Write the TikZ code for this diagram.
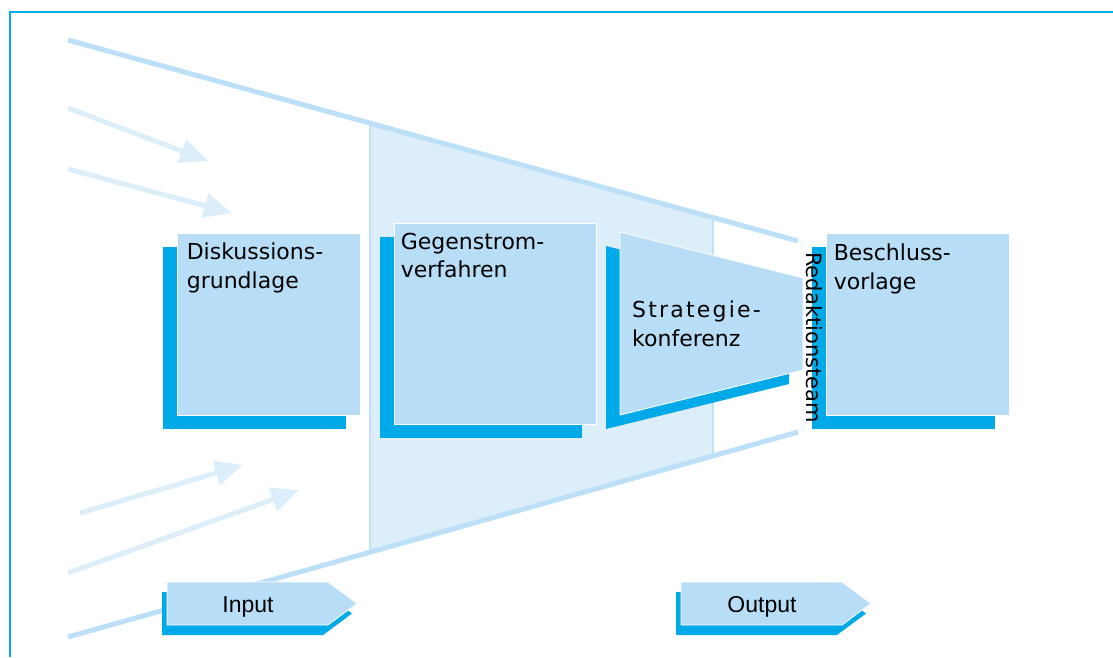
\documentclass[tikz,border=0pt]{standalone}
\usepackage{fontspec}
\setmainfont{DejaVu Sans}
\newfontfamily\tagfont{Liberation Sans}
\usetikzlibrary{arrows.meta,positioning,shadows}
\definecolor{framecyan}{RGB}{0,174,239}
\definecolor{deepcyan}{RGB}{0,169,231}
\definecolor{paleblue}{RGB}{183,222,246}
\definecolor{lineblue}{RGB}{187,224,247}
\definecolor{mistblue}{RGB}{221,238,251}
\definecolor{regionedge}{RGB}{196,226,247}
\definecolor{arrowblue}{RGB}{221,238,251}

\begin{document}
\begin{tikzpicture}[
    x=1pt, y=-1pt,
    box/.style={draw=white, line width=0.8pt, fill=paleblue, inner sep=0pt,
      minimum width=183pt, minimum height=182pt,
      drop shadow={shadow xshift=-14pt, shadow yshift=-14pt, opacity=1, fill=deepcyan}},
    trapbox/.style={draw=white, line width=0.8pt, fill=paleblue,
      drop shadow={shadow xshift=-14pt, shadow yshift=-14pt, opacity=1, fill=deepcyan}},
    tagbox/.style={draw=white, line width=0.8pt, fill=paleblue,
      drop shadow={shadow xshift=-5pt, shadow yshift=-10pt, opacity=1, fill=deepcyan}},
    boxtext/.style={anchor=north west, inner sep=0pt, align=left, font=\fontsize{22}{28.5}\selectfont},
    tagtext/.style={anchor=base, inner sep=0pt, font=\tagfont\fontsize{23}{26}\selectfont},
    funnel/.style={draw=lineblue, line width=5pt},
    inflow/.style={draw=arrowblue, line width=5pt, -{Triangle[length=28pt,width=24pt]}}
  ]
  \useasboundingbox (0,0) rectangle (1113,657);
  \draw[framecyan, line width=2pt] (10,657) -- (10,12) -- (1113,12);

  \coordinate (f_tl) at (68,40);
  \coordinate (f_tr) at (798,241);
  \coordinate (f_bl) at (68,637);
  \coordinate (f_br) at (798,432);

  \fill[mistblue] (370,123.2) -- (713,217.6) -- (713,455.9) -- (370,552.2) -- cycle;
  \draw[regionedge, line width=1.2pt] (370,123.2) -- (370,552.2) (713,217.6) -- (713,455.9);

  \draw[funnel] (f_tl) -- (f_tr);
  \draw[funnel] (f_bl) -- (f_br);

  \coordinate (a1_s) at (68,108);  \coordinate (a1_e) at (208,161);
  \coordinate (a2_s) at (68,169);  \coordinate (a2_e) at (232,213);
  \coordinate (a3_s) at (80,513);  \coordinate (a3_e) at (243,465);
  \coordinate (a4_s) at (68,573);  \coordinate (a4_e) at (299,490);
  \draw[inflow] (a1_s) -- (a1_e);
  \draw[inflow] (a2_s) -- (a2_e);
  \draw[inflow] (a3_s) -- (a3_e);
  \draw[inflow] (a4_s) -- (a4_e);

  \node[box] (fb_disk) at (268.5,324) {};
  \node[boxtext] (fb_disk_t) at ([xshift=10pt,yshift=-10pt]fb_disk.north west) {Diskussions-\\grundlage};

  \node[box, minimum width=202pt, minimum height=201pt] (fb_gegen) at (495,323.5) {};
  \node[boxtext] (fb_gegen_t) at ([xshift=7pt,yshift=-10pt]fb_gegen.north west) {Gegenstrom-\\verfahren};

  \path[trapbox] (620,232) -- (803,278) -- (803,370) -- (620,415) -- cycle;
  \node[boxtext] (fb_strat_t) at (632,301) {\addfontfeature{LetterSpace=10}Strategie-\\konferenz};

  \node[box] (fb_beschl) at (917.5,324) {};
  \node[boxtext] (fb_beschl_t) at ([xshift=8pt,yshift=-11pt]fb_beschl.north west) {Beschluss-\\vorlage};

  \node[rotate=-90, anchor=base west, inner sep=0pt, font=\fontsize{21}{24}\selectfont] (fb_redak) at (806,252) {Redaktionsteam};

  \path[tagbox] (167,582) -- (328,582) -- (357,603.5) -- (328,625) -- (167,625) -- cycle;
  \node[tagtext] (fb_input) at (248,612) {Input};
  \path[tagbox] (681,582) -- (842,582) -- (871,603.5) -- (842,625) -- (681,625) -- cycle;
  \node[tagtext] (fb_output) at (762,612) {Output};
\end{tikzpicture}
\end{document}
